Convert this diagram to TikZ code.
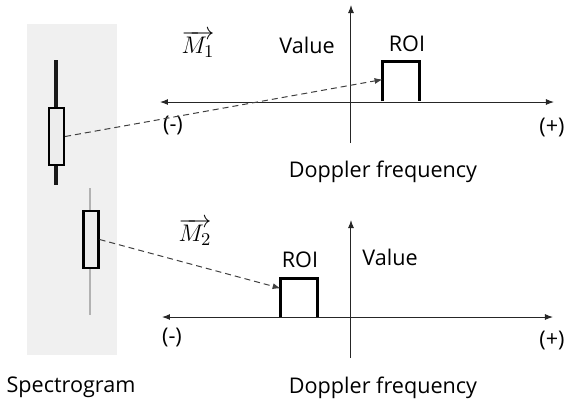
\documentclass[tikz,border=0pt]{standalone}
\usepackage{fontspec}
\setmainfont{Open Sans}
\usetikzlibrary{arrows.meta,calc}
\tikzset{
  lbl/.style={inner sep=0pt, font=\fontsize{10.8}{13}\selectfont},
  mlbl/.style={inner sep=0pt, font=\fontsize{12.5}{15}\selectfont},
  axis/.style={line width=0.5pt, draw=black!85, -{Latex[length=4pt,width=3pt]}},
  roibox/.style={line width=1.5pt, line join=miter},
  link/.style={dashed, dash pattern=on 3pt off 2pt, line width=0.5pt, draw=black!75, -{Latex[length=4pt,width=3pt]}},
  spbox/.style={draw=black, line width=1.1pt, fill=black!7, inner sep=0pt, minimum width=7.5pt},
  roinode/.style={inner sep=0pt, minimum width=18pt},
}
\begin{document}
\begin{tikzpicture}[x=0.5pt,y=-0.5pt]
\useasboundingbox (0,0) rectangle (570,404);
% spectrogram
\fill[black!6] (27,24) rectangle (117,355);
\draw[line width=1.6pt, black!90] (56,60) -- (56,185);
\draw[line width=1pt, black!30] (90,188) -- (90,315);
\node[spbox, minimum height=28.5pt] (s1) at (56.5,136.5) {};
\node[spbox, minimum height=28.5pt] (s2) at (91,239.5) {};
\node[lbl] (spec) at (71,387) {Spectrogram};

% top panel
\coordinate (o1) at (351,102);
\coordinate (l1) at (160,102);
\coordinate (r1) at (554,102);
\coordinate (b1) at (351,143);
\coordinate (t1) at (351,5);
\draw[axis] (o1) -- (l1);
\draw[axis] (o1) -- (r1);
\draw[axis] (b1) -- (t1);
\node[roinode, minimum height=19.5pt] (roi1) at (401,81.5) {};
\draw[roibox] (roi1.south west) -- (roi1.north west) -- (roi1.north east) -- (roi1.south east);
\node[lbl] (roil1) at (407,44) {ROI};
\node[lbl] (val1) at (307,45) {Value};
\node[mlbl] (m1) at (198,44) {$\overrightarrow{M_1}$};
\node[lbl] (neg1) at (173,125) {(-)};
\node[lbl] (pos1) at (552,127) {(+)};
\node[lbl] (dop1) at (383,172) {Doppler frequency};
\draw[link] (s1.east) -- ($(roi1.north west)!0.45!(roi1.south west)$);

% bottom panel
\coordinate (o2) at (351,317);
\coordinate (l2) at (162,317);
\coordinate (r2) at (553,317);
\coordinate (b2) at (351,358);
\coordinate (t2) at (351,220);
\draw[axis] (o2) -- (l2);
\draw[axis] (o2) -- (r2);
\draw[axis] (b2) -- (t2);
\node[roinode, minimum height=19pt] (roi2) at (299,298) {};
\draw[roibox] (roi2.south west) -- (roi2.north west) -- (roi2.north east) -- (roi2.south east);
\node[lbl] (roil2) at (300,260) {ROI};
\node[lbl] (val2) at (390,257) {Value};
\node[mlbl] (m2) at (195,232) {$\overrightarrow{M_2}$};
\node[lbl] (neg2) at (172,337) {(-)};
\node[lbl] (pos2) at (552,340) {(+)};
\node[lbl] (dop2) at (383,388) {Doppler frequency};
\draw[link] (s2.east) -- ($(roi2.north west)!0.25!(roi2.south west)$);
\end{tikzpicture}
\end{document}
